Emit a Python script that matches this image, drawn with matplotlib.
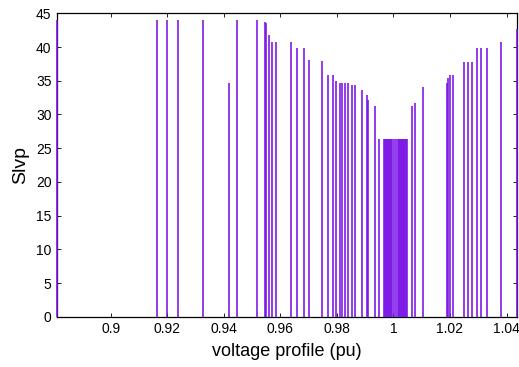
import matplotlib
matplotlib.use("Agg")
import matplotlib.pyplot as plt

plt.rcParams['font.family'] = ['Liberation Sans', 'DejaVu Sans']

# voltage profile (pu) values and corresponding Slvp
voltage = [0.8810, 0.91626, 0.91980, 0.92369, 0.93274, 0.94193, 0.94465,
           0.95183, 0.95455, 0.95501, 0.95596, 0.95713, 0.95844, 0.96374,
           0.96593, 0.96823, 0.97000, 0.97463, 0.97700, 0.97877, 0.97958,
           0.98114, 0.98195, 0.98283, 0.98389, 0.98541, 0.98644, 0.98874,
           0.99061, 0.99103, 0.99333, 0.99475,
           0.99662, 0.99697, 0.99733, 0.99768, 0.99803, 0.99839, 0.99874,
           0.99909, 0.99945, 1.00016, 1.00104, 1.00157, 1.00210, 1.00245,
           1.00281, 1.00316, 1.00351, 1.00387, 1.00422, 1.00457, 1.00493,
           1.00662, 1.00747, 1.01051, 1.01900, 1.01942, 1.02002, 1.02119,
           1.02501, 1.02621, 1.02766, 1.02939, 1.03102, 1.03293, 1.03791,
           1.04364]
slvp = [44.0, 44.0, 44.0, 44.0, 44.0, 34.7, 44.0,
        44.0, 43.7, 43.5, 41.8, 40.8, 40.8, 40.8,
        39.8, 39.8, 38.1, 37.9, 35.9, 35.9, 35.0,
        34.7, 34.7, 34.7, 34.7, 34.4, 34.4, 33.6,
        32.9, 32.2, 31.2, 26.3,
        26.3, 26.3, 26.3, 26.3, 26.3, 26.3, 26.3,
        26.3, 26.3, 26.3, 26.3, 26.3, 26.3, 26.3,
        26.3, 26.3, 26.3, 26.3, 26.3, 26.3, 26.3,
        31.2, 31.7, 34.0, 34.6, 35.4, 35.8, 35.8,
        37.8, 37.8, 37.8, 39.8, 39.8, 39.8, 40.8,
        42.6]

xticks = [0.9, 0.92, 0.94, 0.96, 0.98, 1.0, 1.02, 1.04]
xticklabels = ['0.9', '0.92', '0.94', '0.96', '0.98', '1', '1.02', '1.04']
yticks = [0, 5, 10, 15, 20, 25, 30, 35, 40, 45]

fig = plt.figure(figsize=(5.19, 3.67), dpi=100)
ax = fig.add_axes([0.1098, 0.137, 0.8858, 0.8268])

ax.vlines(voltage, 0, slvp, colors='#7A12E6', linewidth=1.15, clip_on=False, zorder=3)

ax.set_xlim(0.8810, 1.0436)
ax.set_ylim(0, 45)
ax.set_xticks(xticks)
ax.set_xticklabels(xticklabels)
ax.set_yticks(yticks)
ax.tick_params(direction='in', top=True, right=True, labelsize=10, length=3, width=0.6, pad=4)
for s in ax.spines.values():
    s.set_linewidth(0.9)

ax.set_xlabel('voltage profile (pu)', fontsize=13, labelpad=5)
ax.set_ylabel('Slvp', fontsize=14, labelpad=5)

fig.savefig('out.png', dpi=100)
